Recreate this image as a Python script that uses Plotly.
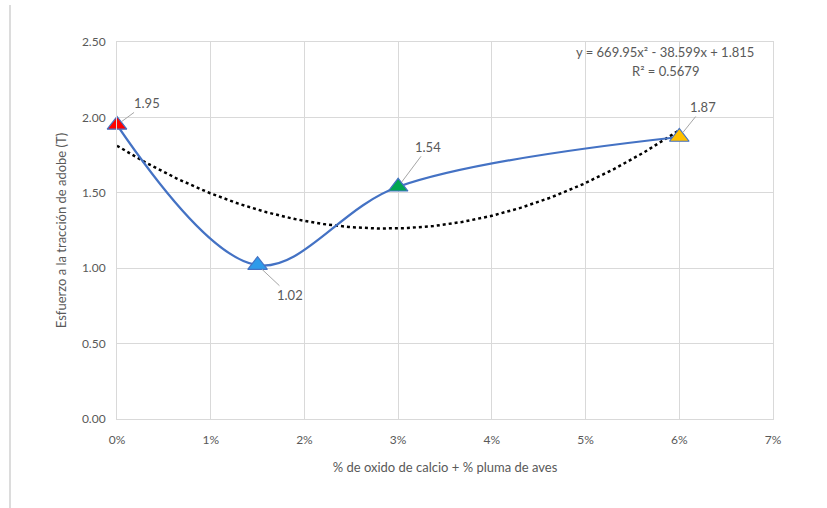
import numpy as np
import plotly.graph_objects as go

# Data
x_vals = [0.0, 0.015, 0.03, 0.06]
y_vals = [1.95, 1.02, 1.54, 1.87]
labels = ["1.95", "1.02", "1.54", "1.87"]
marker_colors = ["#FF0000", "#2E9BEA", "#00A651", "#FFC000"]
x_ticks = [0, 0.01, 0.02, 0.03, 0.04, 0.05, 0.06, 0.07]
x_tick_text = ["0%", "1%", "2%", "3%", "4%", "5%", "6%", "7%"]
y_ticks = [0, 0.5, 1.0, 1.5, 2.0, 2.5]
y_tick_text = ["0.00", "0.50", "1.00", "1.50", "2.00", "2.50"]
equation = "y = 669.95x² - 38.599x + 1.815"
r2_text = "R² = 0.5679"

# Polynomial trendline (order 2) fitted from the data
coef = np.polyfit(x_vals, y_vals, 2)
xt = np.linspace(min(x_vals), max(x_vals), 200)
yt = np.polyval(coef, xt)

FONT = "Lato"
GRAY = "#595959"

fig = go.Figure()
fig.add_trace(go.Scatter(x=xt, y=yt, mode="lines",
                         line=dict(color="#000000", width=2.5, dash="dot"),
                         hoverinfo="skip", showlegend=False))
fig.add_trace(go.Scatter(x=x_vals, y=y_vals, mode="lines",
                         line=dict(color="#4472C4", width=2.2, shape="spline", smoothing=1.0),
                         showlegend=False, cliponaxis=False))
fig.add_trace(go.Scatter(x=x_vals, y=y_vals, mode="markers",
                         marker=dict(symbol="triangle-up", size=17, color=marker_colors,
                                     line=dict(color="#4472C4", width=1.2)),
                         showlegend=False, cliponaxis=False))

offsets = [(30, -22), (32, 30), (30, -40), (24, -30)]
for xv, yv, lab, (ax, ay) in zip(x_vals, y_vals, labels, offsets):
    fig.add_annotation(x=xv, y=yv, text=lab, showarrow=True, arrowhead=0,
                       arrowwidth=1, arrowcolor="#A6A6A6", ax=ax, ay=ay,
                       standoff=6, font=dict(family=FONT, size=13, color=GRAY))

fig.add_annotation(x=0.0585, y=2.434, xref="x", yref="y", text=equation,
                   showarrow=False, font=dict(family=FONT, size=13, color=GRAY))
fig.add_annotation(x=0.0585, y=2.31, xref="x", yref="y", text=r2_text,
                   showarrow=False, font=dict(family=FONT, size=13, color=GRAY))

# thin page border line at left
fig.add_shape(type="line", xref="paper", yref="paper",
              x0=(10 - 117) / 656, x1=(10 - 117) / 656,
              y0=(419 - 5) / 377, y1=(419 - 508) / 377,
              line=dict(color="#D0D0D0", width=1.5))

fig.update_layout(
    width=827, height=508,
    margin=dict(l=117, r=54, t=42, b=89),
    paper_bgcolor="white", plot_bgcolor="white",
    font=dict(family=FONT, color=GRAY, size=12),
    xaxis=dict(range=[0, 0.07], tickvals=x_ticks, ticktext=x_tick_text,
               showgrid=True, gridcolor="#D9D9D9", gridwidth=1,
               zeroline=False, showline=True, linecolor="#D9D9D9", mirror=True,
               ticks="", ticklabelstandoff=10, tickfont=dict(family=FONT, size=12, color=GRAY),
               title=dict(text="% de oxido de calcio + % pluma de aves",
                          font=dict(family=FONT, size=13, color=GRAY), standoff=16)),
    yaxis=dict(range=[0, 2.5], tickvals=y_ticks, ticktext=y_tick_text,
               showgrid=True, gridcolor="#D9D9D9", gridwidth=1,
               zeroline=False, showline=True, linecolor="#D9D9D9", mirror=True,
               ticks="", ticklabelstandoff=8, tickfont=dict(family=FONT, size=12, color=GRAY),
               title=dict(text="Esfuerzo a la tracción de adobe (T)",
                          font=dict(family=FONT, size=13, color=GRAY), standoff=12)),
)

fig.write_html("out.html")
